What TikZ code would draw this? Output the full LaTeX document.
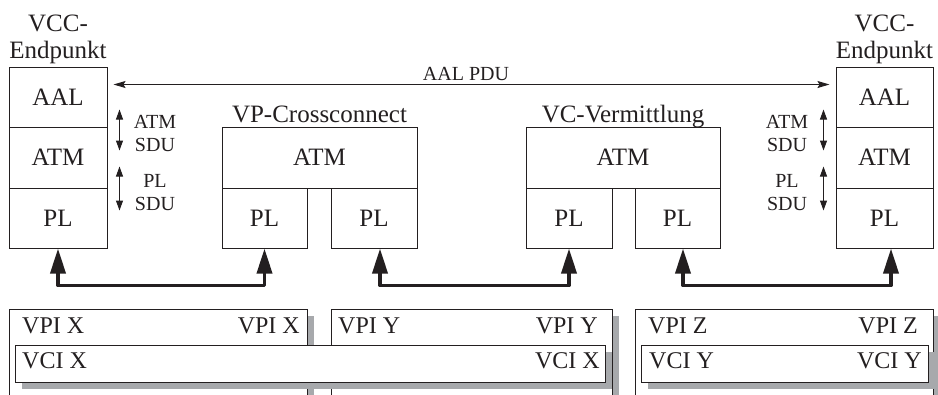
\documentclass[tikz,border=0pt]{standalone}
\usepackage{fontspec}
\setmainfont{Liberation Serif}
\usetikzlibrary{arrows.meta,shadows}
\definecolor{ln}{HTML}{231F20}
\definecolor{sh}{HTML}{A7A9AC}
\begin{document}
\begin{tikzpicture}[x=1pt,y=-1pt,
  box/.style 2 args={draw=ln,line width=1pt,fill=white,inner sep=0pt,text=ln,
    minimum width=#1pt,minimum height=#2pt,font=\fontsize{25}{30}\selectfont},
  ttl/.style={inner sep=0pt,text=ln,align=center,font=\fontsize{25}{27}\selectfont},
  sml/.style={inner sep=0pt,text=ln,align=center,font=\fontsize{20}{23}\selectfont},
  lbl/.style={inner sep=0pt,text=ln,font=\fontsize{24}{28}\selectfont},
  bbox/.style={draw=ln,line width=1pt,fill=white,inner sep=0pt,
    drop shadow={shadow xshift=6pt,shadow yshift=-6pt,fill=sh,opacity=1}},
  thin arrow/.style={draw=ln,line width=1pt,{Stealth[width=7pt,length=12pt,inset=2pt]}-{Stealth[width=7pt,length=12pt,inset=2pt]}},
  sdu arrow/.style={draw=ln,line width=1pt,{Triangle[width=7pt,length=10pt]}-{Triangle[width=7pt,length=10pt]}},
  thick conn/.style={draw=ln,line width=3.6pt,line join=round,{Triangle[width=15pt,length=25pt]}-{Triangle[width=15pt,length=25pt]}}]
\useasboundingbox (0,0) rectangle (938,394);
\clip (0,0) rectangle (938,394);

% left endpoint
\node[box={98}{60}] (aalL) at (58,97) {AAL};
\node[box={98}{61}] (atmL) at (58,157.5) {ATM};
\node[box={98}{60}] (plL) at (58,218) {PL};
\node[ttl,anchor=south] (tL) at (58,64.5) {VCC-\\Endpunkt};

% right endpoint
\node[box={97}{60}] (aalR) at (884.5,97) {AAL};
\node[box={97}{61}] (atmR) at (884.5,157.5) {ATM};
\node[box={97}{60}] (plR) at (884.5,218) {PL};
\node[ttl,anchor=south] (tR) at (884.5,64.5) {VCC-\\Endpunkt};

% VP crossconnect
\node[box={195}{61}] (atmA) at (319.5,157.5) {ATM};
\node[box={85}{60}] (plA) at (264.5,218) {PL};
\node[box={86}{60}] (plB) at (374,218) {PL};
\node[ttl,anchor=base] (tA) at (319.5,122) {VP-Crossconnect};

% VC switch
\node[box={194}{61}] (atmC) at (623,157.5) {ATM};
\node[box={86}{60}] (plC) at (569,218) {PL};
\node[box={85}{60}] (plD) at (677.5,218) {PL};
\node[ttl,anchor=base] (tC) at (623,122) {VC-Vermittlung};

% AAL PDU
\node[sml,anchor=base] (pdu) at (466,80) {AAL PDU};
\draw[thin arrow] ([shift={(6,-12.5)}]aalL.east) -- ([shift={(-6,-12.5)}]aalR.west);

% SDU arrows and labels
\draw[sdu arrow] ([shift={(12,-17)}]atmL.north east) -- ([shift={(12,24)}]atmL.north east);
\draw[sdu arrow] ([shift={(12,-21)}]plL.north east) -- ([shift={(12,23)}]plL.north east);
\node[sml] (sduL1) at (155,133) {ATM\\SDU};
\node[sml] (sduL2) at (155,193) {PL\\SDU};
\draw[sdu arrow] ([shift={(-12,-17)}]atmR.north west) -- ([shift={(-12,24)}]atmR.north west);
\draw[sdu arrow] ([shift={(-12,-21)}]plR.north west) -- ([shift={(-12,23)}]plR.north west);
\node[sml] (sduR1) at (787,133) {ATM\\SDU};
\node[sml] (sduR2) at (787,193) {PL\\SDU};

% thick connectors
\draw[thick conn] (plL.south) -- ++(0,37) -| (plA.south);
\draw[thick conn] ([xshift=6pt]plB.south) -- ++(0,37) -| (plC.south);
\draw[thick conn] ([xshift=5.5pt]plD.south) -- ++(0,37) -| ([xshift=6.5pt]plR.south);

% bottom boxes
\node[bbox,anchor=north west,minimum width=298pt,minimum height=100pt] (vpiX) at (9,309) {};
\node[bbox,anchor=north west,minimum width=281pt,minimum height=100pt] (vpiY) at (331,309) {};
\node[bbox,anchor=north west,minimum width=298pt,minimum height=100pt] (vpiZ) at (635,309) {};
\node[bbox,anchor=north west,minimum width=590pt,minimum height=37pt] (vciX) at (15,345) {};
\node[bbox,anchor=north west,minimum width=287pt,minimum height=37pt] (vciY) at (641,345) {};

\node[lbl,anchor=base west] (a1) at (22,333) {VPI X};
\node[lbl,anchor=base east] (a2) at (300,333) {VPI X};
\node[lbl,anchor=base west] (a3) at (338,333) {VPI Y};
\node[lbl,anchor=base east] (a4) at (598,333) {VPI Y};
\node[lbl,anchor=base west] (a5) at (648,333) {VPI Z};
\node[lbl,anchor=base east] (a6) at (918,333) {VPI Z};
\node[lbl,anchor=base west] (b1) at (22,368) {VCI X};
\node[lbl,anchor=base east] (b2) at (600,368) {VCI X};
\node[lbl,anchor=base west] (b3) at (649,368) {VCI Y};
\node[lbl,anchor=base east] (b4) at (922,368) {VCI Y};
\end{tikzpicture}
\end{document}
